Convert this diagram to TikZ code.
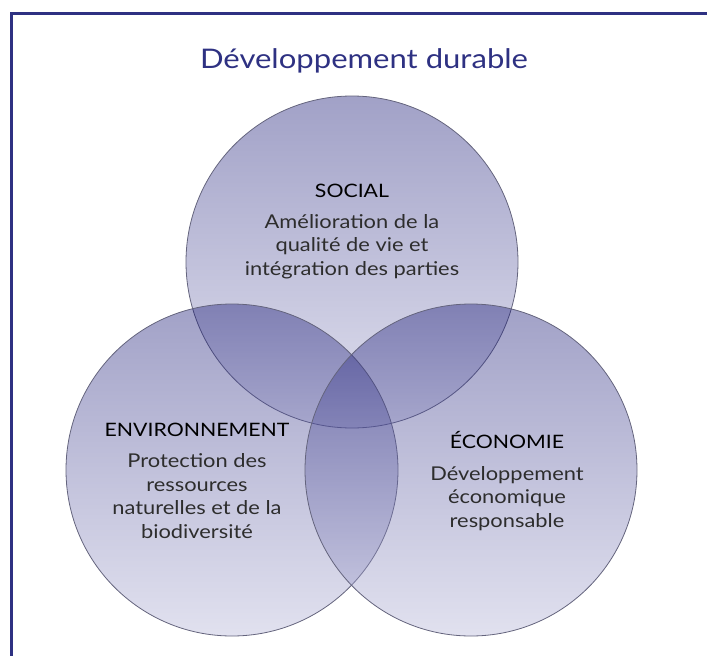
\documentclass[tikz,border=0pt]{standalone}
\usepackage{fontspec}
\setmainfont{Lato}[FakeStretch=1.15]
\definecolor{frameblue}{RGB}{46,49,130}
\definecolor{bodygray}{RGB}{45,45,45}
\definecolor{discedge}{RGB}{100,100,125}
\definecolor{disctop}{RGB}{20,20,115}
\definecolor{discbottom}{RGB}{180,180,215}
\newcommand{\Radius}{166}
% one pillar: name, centre x, centre y
\newcommand{\Pillar}[3]{
  \coordinate (#1) at (#2,#3);
  \draw[disc] (#1) circle (\Radius);
}
\begin{document}
\begin{tikzpicture}[x=1pt,y=-1pt,
  disc/.style={draw=discedge, line width=0.8pt, top color=disctop, bottom color=discbottom, fill opacity=0.4},
  heading/.style={font=\fontsize{18.5}{24}\selectfont, text=black, inner sep=0pt, anchor=base},
  caption/.style={font=\fontsize{19}{23.5}\selectfont, text=bodygray, align=center, inner sep=0pt, anchor=base}]
  \useasboundingbox (0,0) rectangle (707,656);

  % frame
  \draw[frameblue, line width=3.5pt, line join=miter] (11.5,660) -- (11.5,13.5) -- (710,13.5);
  \node[font=\fontsize{27}{30}\selectfont, text=frameblue, inner sep=0pt, anchor=base] (title) at (364,68) {Développement durable};

  % the three circles
  \Pillar{social}{352}{262}
  \Pillar{env}{232}{470}
  \Pillar{eco}{471}{470}

  % texts (anchored on the last line)
  \node[heading] (socialhead) at (352,197) {SOCIAL};
  \node[caption] (socialtext) at (352,275) {Amélioration de la\\qualité de vie et\\intégration des parties};

  \node[heading] (envhead) at (197,436) {ENVIRONNEMENT};
  \node[caption] (envtext) at (197,538) {Protection des\\ressources\\naturelles et de la\\biodiversité};

  \node[heading] (ecohead) at (507,448) {ÉCONOMIE};
  \node[caption] (ecotext) at (507,527) {Développement\\économique\\responsable};
\end{tikzpicture}
\end{document}
